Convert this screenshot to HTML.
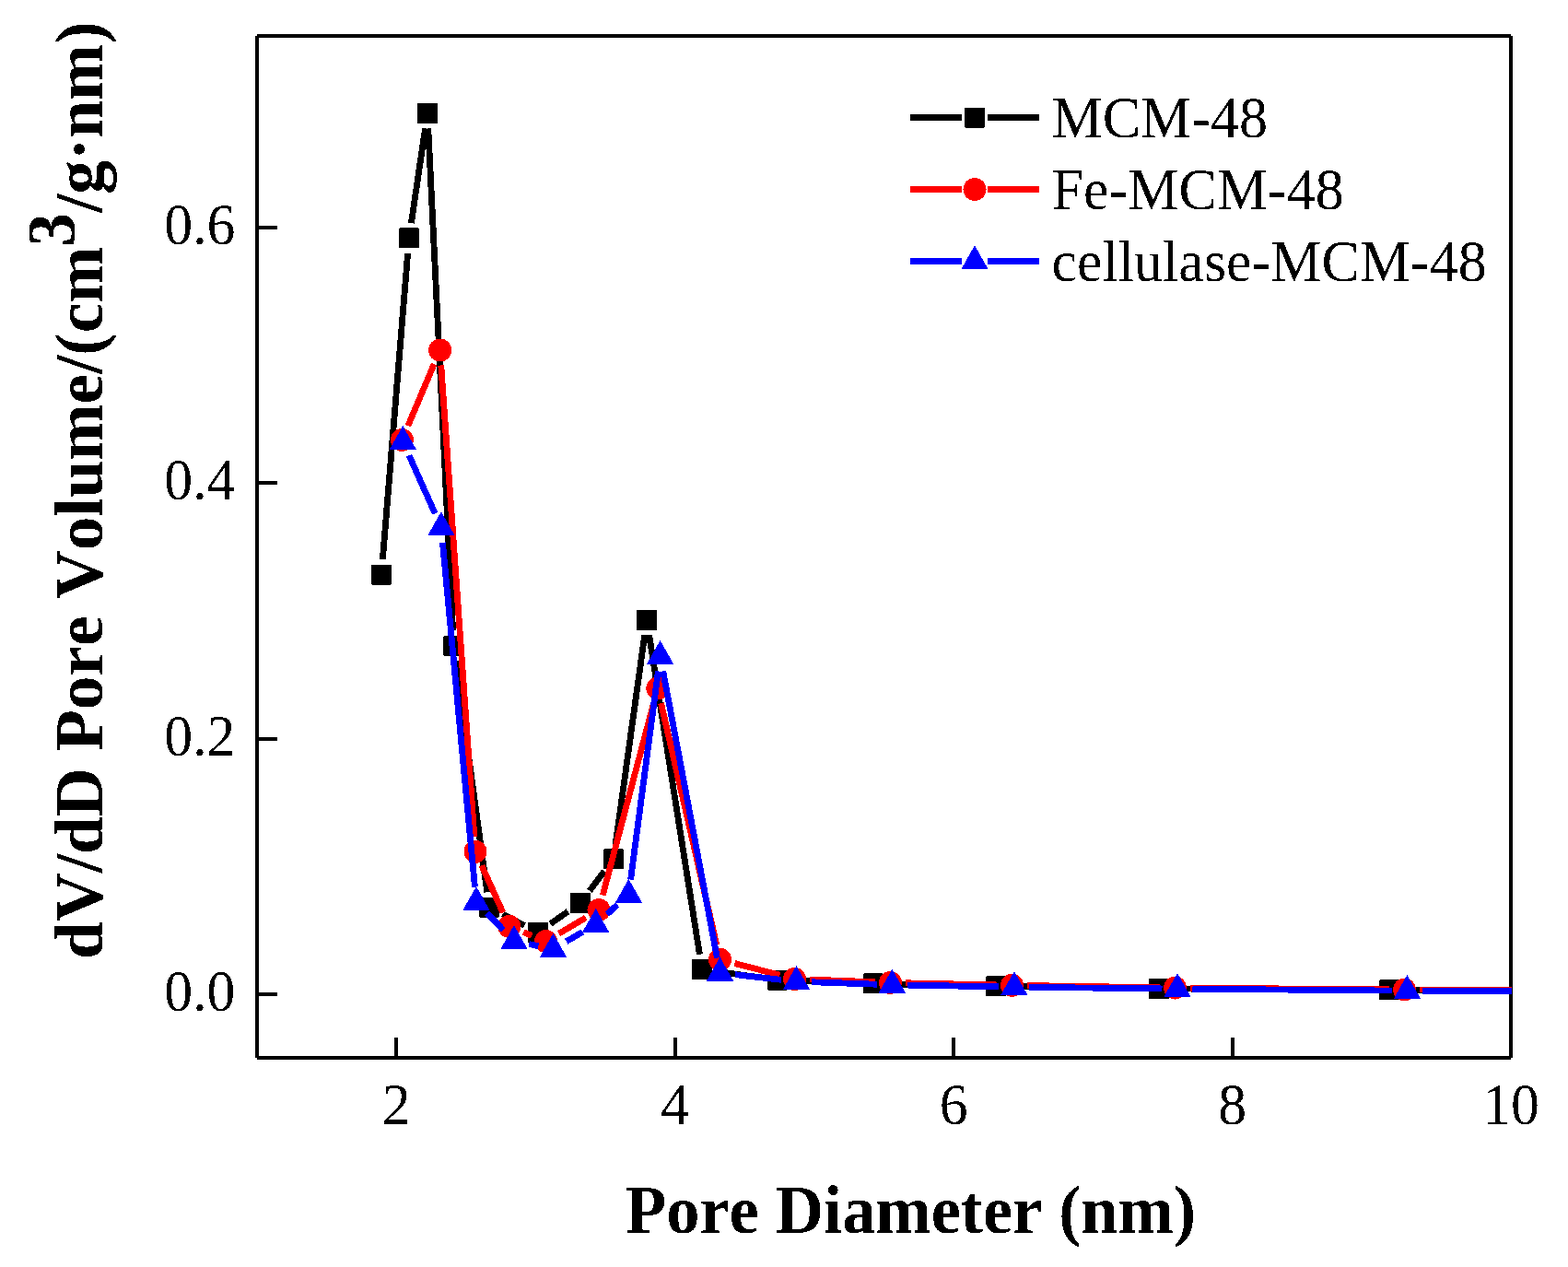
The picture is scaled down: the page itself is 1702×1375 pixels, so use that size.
<!DOCTYPE html>
<html><head><meta charset="utf-8"><title>Pore size distribution</title>
<style>html,body{margin:0;padding:0;background:#fff;}svg{display:block;}text{font-kerning:none;}</style>
</head><body>
<svg width="1702" height="1375" viewBox="0 0 1702 1375" shape-rendering="crispEdges"><g stroke="#000" stroke-width="4"><line x1="279" y1="39" x2="1640" y2="39"/><line x1="279" y1="1148" x2="1640" y2="1148"/><line x1="279" y1="39" x2="279" y2="1148"/><line x1="1640" y1="39" x2="1640" y2="1148"/></g>
<g stroke="#000" stroke-width="4"><line x1="430.2" y1="1148" x2="430.2" y2="1126"/><line x1="732.7" y1="1148" x2="732.7" y2="1126"/><line x1="1035.3" y1="1148" x2="1035.3" y2="1126"/><line x1="1337.8" y1="1148" x2="1337.8" y2="1126"/><line x1="279" y1="1079" x2="301" y2="1079"/><line x1="279" y1="801.5" x2="301" y2="801.5"/><line x1="279" y1="524" x2="301" y2="524"/><line x1="279" y1="247" x2="301" y2="247"/></g>
<defs><filter id="bin" x="0" y="0" width="100%" height="100%" filterUnits="userSpaceOnUse" color-interpolation-filters="sRGB"><feComponentTransfer><feFuncA type="discrete" tableValues="0 1"/></feComponentTransfer></filter><clipPath id="pc"><rect x="281" y="41" width="1360" height="1105"/></clipPath></defs>
<g clip-path="url(#pc)">
<g stroke="#000" stroke-width="6.8" stroke-linecap="butt"><line x1="415.35" y1="607.16" x2="442.65" y2="274.84"/><line x1="446.41" y1="242.08" x2="461.59" y2="139.32"/><line x1="464.81" y1="139.48" x2="491.59" y2="684.52"/><line x1="494.63" y1="717.35" x2="528.77" y2="968.25"/><line x1="545.66" y1="992.18" x2="569.34" y2="1004.42"/><line x1="597.52" y1="1002.54" x2="616.48" y2="989.26"/><line x1="639.96" y1="966.65" x2="655.94" y2="945.55"/><line x1="668.17" y1="916.06" x2="699.73" y2="689.14"/><line x1="704.58" y1="689.1" x2="759.42" y2="1035.7"/><line x1="778.34" y1="1054.29" x2="827.66" y2="1061.21"/><line x1="860.49" y1="1064.12" x2="931.51" y2="1066.78"/><line x1="964.5" y1="1067.77" x2="1064.5" y2="1070.03"/><line x1="1097.5" y1="1070.63" x2="1241.5" y2="1072.67"/><line x1="1274.5" y1="1073" x2="1491.5" y2="1074.3"/><line x1="1524.5" y1="1074.47" x2="1641" y2="1075"/></g>
<g fill="#000"><rect x="403" y="612.6" width="22" height="22" rx="1"/><rect x="433" y="247.4" width="22" height="22" rx="1"/><rect x="453" y="112" width="22" height="22" rx="1"/><rect x="481.4" y="690" width="22" height="22" rx="1"/><rect x="520" y="973.6" width="22" height="22" rx="1"/><rect x="573" y="1001" width="22" height="22" rx="1"/><rect x="619" y="968.8" width="22" height="22" rx="1"/><rect x="654.9" y="921.4" width="22" height="22" rx="1"/><rect x="691" y="661.8" width="22" height="22" rx="1"/><rect x="751" y="1041" width="22" height="22" rx="1"/><rect x="833" y="1052.5" width="22" height="22" rx="1"/><rect x="937" y="1056.4" width="22" height="22" rx="1"/><rect x="1070" y="1059.4" width="22" height="22" rx="1"/><rect x="1247" y="1061.9" width="22" height="22" rx="1"/><rect x="1497" y="1063.4" width="22" height="22" rx="1"/></g>
<g stroke="#f00" stroke-width="6.8" stroke-linecap="butt"><line x1="442.83" y1="462.2" x2="471.17" y2="395.2"/><line x1="478.76" y1="396.46" x2="514.84" y2="907.84"/><line x1="522.82" y1="939.33" x2="545.98" y2="990.37"/><line x1="568.08" y1="1011.63" x2="577.22" y2="1015.37"/><line x1="606.69" y1="1013.18" x2="635.81" y2="995.92"/><line x1="654.23" y1="971.55" x2="709.57" y2="762.95"/><line x1="717.5" y1="763.08" x2="777.8" y2="1025.22"/><line x1="797.47" y1="1045.46" x2="846.53" y2="1058.24"/><line x1="878.99" y1="1063.03" x2="949.91" y2="1065.77"/><line x1="982.9" y1="1066.76" x2="1082" y2="1068.94"/><line x1="1115" y1="1069.55" x2="1259" y2="1071.75"/><line x1="1292" y1="1072.13" x2="1508" y2="1073.87"/><line x1="1541" y1="1074.04" x2="1641" y2="1074.3"/></g>
<g fill="#f00"><circle cx="436.4" cy="477.4" r="12.5"/><circle cx="477.6" cy="380" r="12.5"/><circle cx="516" cy="924.3" r="12.5"/><circle cx="552.8" cy="1005.4" r="12.5"/><circle cx="592.5" cy="1021.6" r="12.5"/><circle cx="650" cy="987.5" r="12.5"/><circle cx="713.8" cy="747" r="12.5"/><circle cx="781.5" cy="1041.3" r="12.5"/><circle cx="862.5" cy="1062.4" r="12.5"/><circle cx="966.4" cy="1066.4" r="12.5"/><circle cx="1098.5" cy="1069.3" r="12.5"/><circle cx="1275.5" cy="1072" r="12.5"/><circle cx="1524.5" cy="1074" r="12.5"/></g>
<g stroke="#00f" stroke-width="6.8" stroke-linecap="butt"><line x1="444.03" y1="494.26" x2="472.17" y2="557.24"/><line x1="480.44" y1="588.73" x2="515.46" y2="962.67"/><line x1="528.51" y1="990.92" x2="546.49" y2="1009.38"/><line x1="574.16" y1="1024.55" x2="584.34" y2="1026.65"/><line x1="614.76" y1="1021.7" x2="632.44" y2="1011.4"/><line x1="658.97" y1="992.07" x2="670.13" y2="982.03"/><line x1="684.56" y1="954.64" x2="714.44" y2="728.46"/><line x1="719.66" y1="728.31" x2="778.44" y2="1039.59"/><line x1="797.89" y1="1057.66" x2="848.01" y2="1063.34"/><line x1="880.89" y1="1065.77" x2="951.91" y2="1068.23"/><line x1="984.9" y1="1069.1" x2="1084.4" y2="1070.9"/><line x1="1117.4" y1="1071.38" x2="1261.5" y2="1072.92"/><line x1="1294.5" y1="1073.24" x2="1510.9" y2="1075.06"/><line x1="1543.9" y1="1075.21" x2="1641" y2="1075.3"/></g>
<g fill="#00f"><path d="M437.3 462.1L452.1 488.2L422.5 488.2Z"/><path d="M478.9 555.2L493.7 581.3L464.1 581.3Z"/><path d="M517 962L531.8 988.1L502.2 988.1Z"/><path d="M558 1004.1L572.8 1030.2L543.2 1030.2Z"/><path d="M600.5 1012.9L615.3 1039L585.7 1039Z"/><path d="M646.7 986L661.5 1012.1L631.9 1012.1Z"/><path d="M682.4 953.9L697.2 980L667.6 980Z"/><path d="M716.6 695L731.4 721.1L701.8 721.1Z"/><path d="M781.5 1038.7L796.3 1064.8L766.7 1064.8Z"/><path d="M864.4 1048.1L879.2 1074.2L849.6 1074.2Z"/><path d="M968.4 1051.7L983.2 1077.8L953.6 1077.8Z"/><path d="M1100.9 1054.1L1115.7 1080.2L1086.1 1080.2Z"/><path d="M1278 1056L1292.8 1082.1L1263.2 1082.1Z"/><path d="M1527.4 1058.1L1542.2 1084.2L1512.6 1084.2Z"/></g>
</g>
<g stroke="#000" stroke-width="6.8"><line x1="988" y1="127.5" x2="1044" y2="127.5"/><line x1="1072" y1="127.5" x2="1128" y2="127.5"/></g><g fill="#000"><rect x="1047" y="116.5" width="22" height="22" rx="1"/></g><g stroke="#f00" stroke-width="6.8"><line x1="988" y1="205.5" x2="1044" y2="205.5"/><line x1="1072" y1="205.5" x2="1128" y2="205.5"/></g><g fill="#f00"><circle cx="1058" cy="205.5" r="12.5"/></g><g stroke="#00f" stroke-width="6.8"><line x1="988" y1="283.4" x2="1044" y2="283.4"/><line x1="1072" y1="283.4" x2="1128" y2="283.4"/></g><g fill="#00f"><path d="M1058 266.3L1072.8 292.4L1043.2 292.4Z"/></g>
<g filter="url(#bin)"><g font-family="Liberation Serif, serif" font-size="64" fill="#000"><text transform="translate(430.2 1220) scale(0.965 1)" text-anchor="middle">2</text><text transform="translate(732.7 1220) scale(0.965 1)" text-anchor="middle">4</text><text transform="translate(1035.3 1220) scale(0.965 1)" text-anchor="middle">6</text><text transform="translate(1337.8 1220) scale(0.965 1)" text-anchor="middle">8</text><text transform="translate(1640 1220) scale(0.965 1)" text-anchor="middle">10</text><text transform="translate(255.5 1097) scale(0.966 1)" text-anchor="end">0.0</text><text transform="translate(255.5 819.5) scale(0.966 1)" text-anchor="end">0.2</text><text transform="translate(255.5 542) scale(0.966 1)" text-anchor="end">0.4</text><text transform="translate(255.5 265) scale(0.966 1)" text-anchor="end">0.6</text></g><text transform="translate(1141.5 148.8) scale(0.970 1)" font-family="Liberation Serif, serif" font-size="64">MCM-48</text><text transform="translate(1141.5 226.8) scale(0.970 1)" font-family="Liberation Serif, serif" font-size="64">Fe-MCM-48</text><text transform="translate(1141.5 304.7) scale(0.970 1)" font-family="Liberation Serif, serif" font-size="64">cellulase-MCM-48</text><text transform="translate(988.5 1337.5) scale(0.992 1)" text-anchor="middle" font-family="Liberation Serif, serif" font-weight="bold" font-size="73">Pore Diameter (nm)</text><text transform="translate(111 1041) rotate(-90) scale(1.004 1)" font-family="Liberation Serif, serif" font-weight="bold" font-size="73">dV/dD Pore Volume/(cm<tspan dy="-30">3</tspan><tspan dy="30">/g·nm)</tspan></text></g></svg>
</body></html>
